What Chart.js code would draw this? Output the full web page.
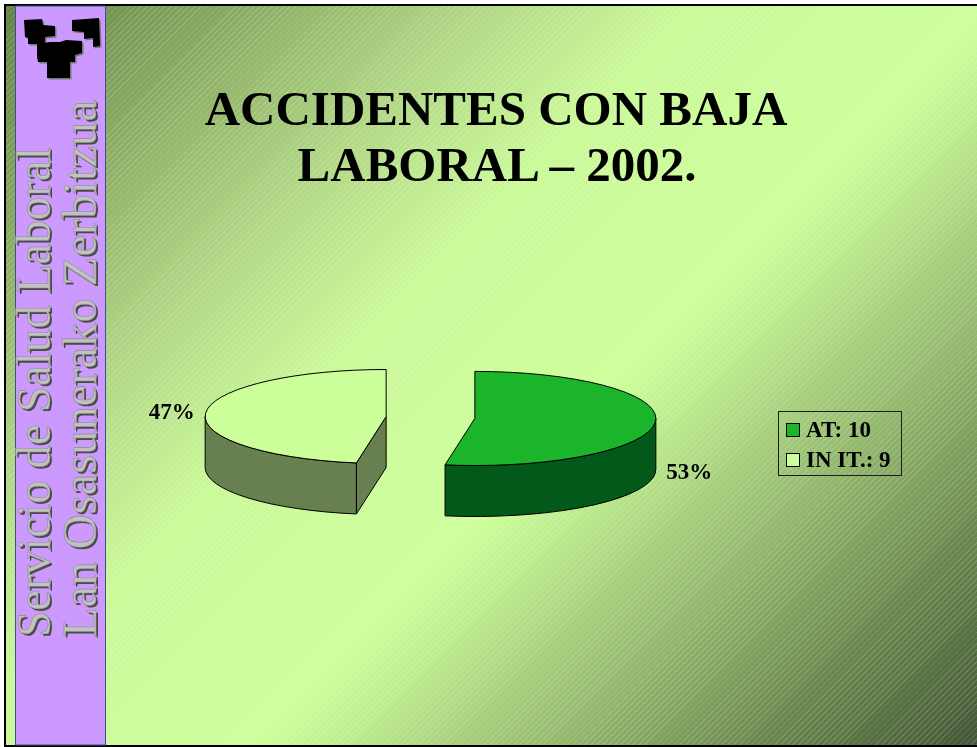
<!DOCTYPE html>
<html lang="es">
<head>
<meta charset="utf-8">
<title>Accidentes con baja laboral - 2002</title>
<script src="https://cdn.jsdelivr.net/npm/chart.js@4.4.1/dist/chart.umd.min.js"></script>
<style>
  html, body { margin: 0; padding: 0; background: #fff; }
  body { position: relative; width: 977px; height: 747px; overflow: hidden;
         font-family: "Liberation Serif", "Times New Roman", serif; }
  #slide {
    position: absolute; left: 4px; top: 4px; width: 973px; height: 743px;
    box-sizing: border-box; border: 2px solid #000; border-right: none;
    background:
      repeating-linear-gradient(135deg, rgba(255,255,255,0) 0px, rgba(255,255,255,0) 3px,
                                rgba(255,255,255,0.14) 3px, rgba(255,255,255,0.14) 4.2px),
      linear-gradient(135deg, #628446 0%, #8aab62 14%, #b2d886 28%, #caf998 40%, #ccff99 58%,
                      #acd681 68%, #84a662 80%, #627d48 90%, #435636 100%);
  }
  #decor { position: absolute; left: 0; top: 0; }
  #accidentPie { position: absolute; left: 0; top: 0; }
  #legend {
    position: absolute; left: 778px; top: 411px; width: 124px; height: 65px;
    box-sizing: border-box; border: 1px solid #1c1c1c; padding: 3px 0 0 7px;
    font-weight: bold; font-size: 23px; color: #000;
  }
  #legend .item { display: flex; align-items: center; height: 30px; white-space: nowrap; }
  #legend .swatch { width: 14px; height: 14px; box-sizing: border-box; border: 1px solid #000; margin-right: 6px; }
</style>
</head>
<body>
<div id="slide"></div>

<svg id="decor" width="977" height="747" xmlns="http://www.w3.org/2000/svg">
  <!-- side band -->
  <rect x="15.5" y="6" width="90" height="739" fill="#cc99ff" stroke="#3d4f8f" stroke-width="1"/>

  <!-- logo -->
  <g transform="translate(1.5,1.5)" fill="#777">
    <path d="M24,20 L42,19 L43,25 L55,26 L55,36 L45,37 L45,44 L28,44 L28,38 L25,37 Z"/>
    <path d="M72,20 L99,18 L100,46 L93,47 L93,38 L84,39 L84,32 L72,31 Z"/>
    <path d="M37,44 L50,42 L60,42 L66,40 L82,41 L82,53 L75,55 L75,62 L38,62 L37,57 Z"/>
    <path d="M47,60 L70,60 L70,78 L47,78 Z"/>
  </g>
  <g fill="#000">
    <path d="M24,20 L42,19 L43,25 L55,26 L55,36 L45,37 L45,44 L28,44 L28,38 L25,37 Z"/>
    <path d="M72,20 L99,18 L100,46 L93,47 L93,38 L84,39 L84,32 L72,31 Z"/>
    <path d="M37,44 L50,42 L60,42 L66,40 L82,41 L82,53 L75,55 L75,62 L38,62 L37,57 Z"/>
    <path d="M47,60 L70,60 L70,78 L47,78 Z"/>
  </g>

  <!-- vertical service name -->
  <g font-family="'Liberation Serif', 'Times New Roman', serif" font-size="49">
    <g fill="#4a4a4a">
      <text transform="translate(52,639) rotate(-90)" textLength="490" lengthAdjust="spacingAndGlyphs">Servicio de Salud Laboral</text>
      <text transform="translate(98,639) rotate(-90)" textLength="537" lengthAdjust="spacingAndGlyphs">Lan Osasunerako Zerbitzua</text>
    </g>
    <g fill="#c2c2c2" stroke="#8c8c8c" stroke-width="0.6">
      <text transform="translate(50,637) rotate(-90)" textLength="490" lengthAdjust="spacingAndGlyphs">Servicio de Salud Laboral</text>
      <text transform="translate(96,637) rotate(-90)" textLength="537" lengthAdjust="spacingAndGlyphs">Lan Osasunerako Zerbitzua</text>
    </g>
  </g>

  <!-- title -->
  <g font-family="'Liberation Serif', 'Times New Roman', serif" font-size="49" font-weight="bold" text-anchor="middle" fill="#000">
    <text x="496" y="125">ACCIDENTES CON BAJA</text>
    <text x="497" y="181">LABORAL – 2002.</text>
  </g>
</svg>

<canvas id="accidentPie" width="977" height="747"></canvas>
<div id="legend"></div>

<script>
  const categories = ['AT', 'IN IT.'];
  const accidentCounts = [10, 9];
  const topColors = ['#1ab52a', '#ccff99'];
  const sideColors = ['#03591a', '#688050'];

  // legend box
  const legendBox = document.getElementById('legend');
  categories.forEach(function (name, i) {
    const row = document.createElement('div');
    row.className = 'item';
    const sw = document.createElement('span');
    sw.className = 'swatch';
    sw.style.background = topColors[i];
    row.appendChild(sw);
    row.appendChild(document.createTextNode(name + ': ' + accidentCounts[i]));
    legendBox.appendChild(row);
  });

  // parts of an angle range that face the viewer (lower half of the ellipse)
  function frontRanges(s, e) {
    const out = [];
    [-2 * Math.PI, 0, 2 * Math.PI].forEach(function (base) {
      const a = Math.max(s, base), b = Math.min(e, base + Math.PI);
      if (b > a) out.push([a, b]);
    });
    return out;
  }

  function sliceGeometry(chart, opts) {
    return chart.getDatasetMeta(0).data.map(function (arc, i) {
      const p = arc.getProps(['x', 'y', 'startAngle', 'endAngle', 'outerRadius']);
      const mid = (p.startAngle + p.endAngle) / 2;
      const dx = Math.cos(mid) * opts.explode;
      const dy = Math.sin(mid) * opts.explode * opts.tilt;
      return {
        arc: arc, i: i, mid: mid, dx: dx, dy: dy, y0: p.y,
        cx: p.x + dx, cy: p.y + dy,
        r: p.outerRadius, ry: p.outerRadius * opts.tilt,
        s: p.startAngle, e: p.endAngle
      };
    });
  }

  // tilted, exploded pie with a visible thickness
  const pie3d = {
    id: 'pie3d',
    beforeDatasetsDraw(chart, args, opts) {
      const ctx = chart.ctx;
      const d = opts.depth;
      sliceGeometry(chart, opts).forEach(function (sl) {
        ctx.save();
        ctx.lineWidth = 1;
        ctx.strokeStyle = '#000';
        ctx.lineJoin = 'round';
        ctx.fillStyle = sideColors[sl.i];

        // cut faces turned toward the viewer
        [[sl.s, -1], [sl.e, 1]].forEach(function (edge) {
          const a = edge[0];
          if (edge[1] * Math.cos(a) <= 1e-6) return;
          const px = sl.cx + sl.r * Math.cos(a);
          const py = sl.cy + sl.ry * Math.sin(a);
          ctx.beginPath();
          ctx.moveTo(sl.cx, sl.cy);
          ctx.lineTo(px, py);
          ctx.lineTo(px, py + d);
          ctx.lineTo(sl.cx, sl.cy + d);
          ctx.closePath();
          ctx.fill();
          ctx.stroke();
        });

        // outer wall
        frontRanges(sl.s, sl.e).forEach(function (rg) {
          ctx.beginPath();
          ctx.ellipse(sl.cx, sl.cy, sl.r, sl.ry, 0, rg[0], rg[1]);
          ctx.ellipse(sl.cx, sl.cy + d, sl.r, sl.ry, 0, rg[1], rg[0], true);
          ctx.closePath();
          ctx.fill();
          ctx.stroke();
        });

        // top face: the arc element itself, squashed
        ctx.save();
        ctx.translate(sl.dx, sl.dy + sl.y0);
        ctx.scale(1, opts.tilt);
        ctx.translate(0, -sl.y0);
        sl.arc.draw(ctx);
        ctx.restore();

        ctx.beginPath();
        ctx.moveTo(sl.cx, sl.cy);
        ctx.ellipse(sl.cx, sl.cy, sl.r, sl.ry, 0, sl.s, sl.e);
        ctx.closePath();
        ctx.stroke();
        ctx.restore();
      });
      return false;
    },
    afterDraw(chart) {
      const opts = chart.options.plugins.pie3d;
      const ctx = chart.ctx;
      const values = chart.data.datasets[0].data;
      const total = values.reduce(function (a, b) { return a + b; }, 0);
      ctx.save();
      ctx.font = 'bold 23px "Liberation Serif", "Times New Roman", serif';
      ctx.fillStyle = '#000';
      ctx.textAlign = 'center';
      ctx.textBaseline = 'middle';
      sliceGeometry(chart, opts).forEach(function (sl) {
        const c = Math.cos(sl.mid), s = Math.sin(sl.mid);
        const x = sl.cx + sl.r * c + opts.labelGap * Math.sign(c);
        const y = sl.cy + sl.ry * s + (s > 0 ? opts.depth : 0);
        ctx.fillText(Math.round(values[sl.i] / total * 100) + '%', x, y);
      });
      ctx.restore();
    }
  };

  new Chart(document.getElementById('accidentPie'), {
    type: 'pie',
    data: {
      labels: categories,
      datasets: [{
        data: accidentCounts,
        backgroundColor: topColors,
        borderWidth: 0,
        radius: 181
      }]
    },
    options: {
      responsive: false,
      animation: false,
      events: [],
      devicePixelRatio: 1,
      layout: { padding: { left: 230, right: 346, top: 217, bottom: 129 } },
      plugins: {
        legend: { display: false },
        tooltip: { enabled: false },
        pie3d: { tilt: 0.26, depth: 51, explode: 44.5, labelGap: 34 }
      }
    },
    plugins: [pie3d]
  });
</script>
</body>
</html>
